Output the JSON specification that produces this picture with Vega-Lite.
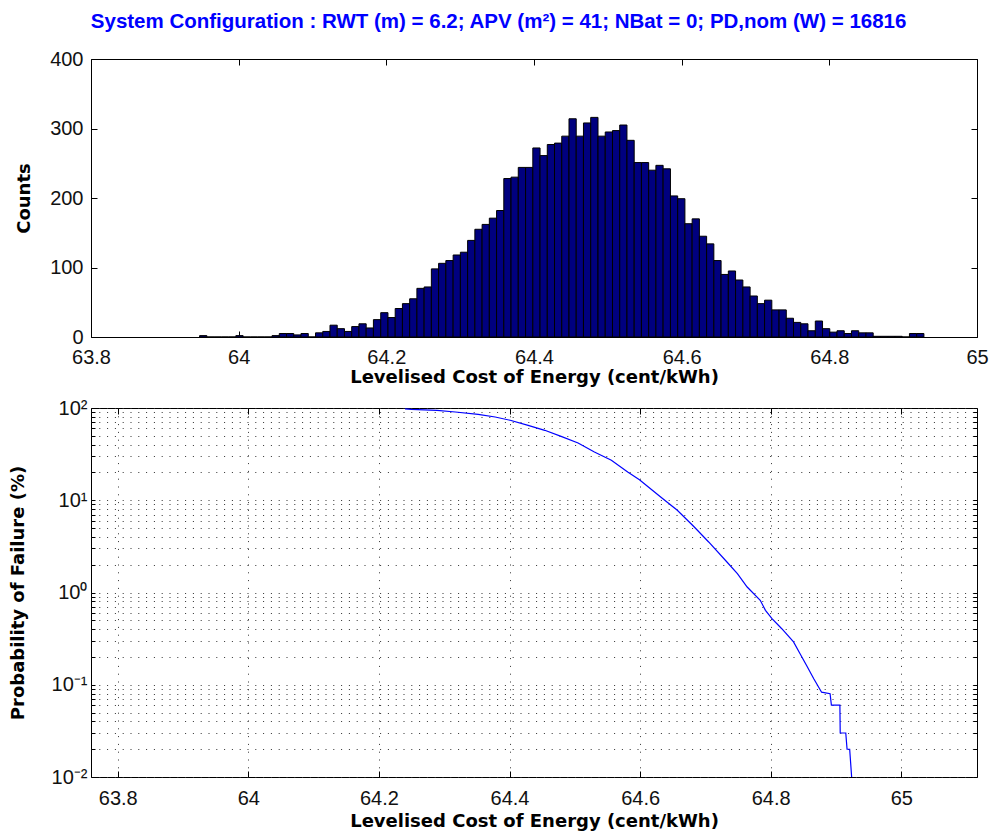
{
  "$schema": "https://vega.github.io/schema/vega-lite/v6.json",
  "background": "white",
  "padding": {"left": 8, "top": 12, "right": 2, "bottom": 2},
  "title": {"text": "System Configuration : RWT (m) = 6.2; APV (m²) = 41; NBat = 0; PD,nom (W) = 16816", "color": "#0000FF", "font": "Liberation Sans", "fontWeight": "bold", "fontSize": 20.5, "anchor": "middle", "offset": 16},
  "spacing": 10,
  "config": {
    "view": {"stroke": "#000", "strokeWidth": 1},
    "axis": {"labelFont": "Liberation Sans", "labelFontSize": 20, "labelColor": "#111", "titleFont": "DejaVu Sans", "titleFontSize": 18, "titleFontWeight": "bold", "titleColor": "#000", "domain": false, "tickColor": "#000", "tickSize": -6, "labelPadding": 12, "grid": false, "labelOverlap": false, "labelFlush": false}
  },
  "vconcat": [
    {
      "width": 886,
      "height": 278,
      "data": {"values": [
        {"a":63.9471,"b":63.9569,"c":2},
        {"a":63.9569,"b":63.9667,"c":0},
        {"a":63.9667,"b":63.9765,"c":0},
        {"a":63.9765,"b":63.9863,"c":0},
        {"a":63.9863,"b":63.9962,"c":0},
        {"a":63.9962,"b":64.0060,"c":2},
        {"a":64.0060,"b":64.0158,"c":0},
        {"a":64.0158,"b":64.0256,"c":0},
        {"a":64.0256,"b":64.0354,"c":0},
        {"a":64.0354,"b":64.0452,"c":0},
        {"a":64.0452,"b":64.0550,"c":2},
        {"a":64.0550,"b":64.0648,"c":5},
        {"a":64.0648,"b":64.0746,"c":5},
        {"a":64.0746,"b":64.0844,"c":3},
        {"a":64.0844,"b":64.0943,"c":5},
        {"a":64.0943,"b":64.1041,"c":0},
        {"a":64.1041,"b":64.1139,"c":6},
        {"a":64.1139,"b":64.1237,"c":8},
        {"a":64.1237,"b":64.1335,"c":17},
        {"a":64.1335,"b":64.1433,"c":12},
        {"a":64.1433,"b":64.1531,"c":8},
        {"a":64.1531,"b":64.1629,"c":15},
        {"a":64.1629,"b":64.1727,"c":19},
        {"a":64.1727,"b":64.1825,"c":13},
        {"a":64.1825,"b":64.1924,"c":25},
        {"a":64.1924,"b":64.2022,"c":35},
        {"a":64.2022,"b":64.2120,"c":28},
        {"a":64.2120,"b":64.2218,"c":41},
        {"a":64.2218,"b":64.2316,"c":48},
        {"a":64.2316,"b":64.2414,"c":55},
        {"a":64.2414,"b":64.2512,"c":70},
        {"a":64.2512,"b":64.2610,"c":72},
        {"a":64.2610,"b":64.2708,"c":98},
        {"a":64.2708,"b":64.2806,"c":106},
        {"a":64.2806,"b":64.2905,"c":110},
        {"a":64.2905,"b":64.3003,"c":118},
        {"a":64.3003,"b":64.3101,"c":122},
        {"a":64.3101,"b":64.3199,"c":139},
        {"a":64.3199,"b":64.3297,"c":155},
        {"a":64.3297,"b":64.3395,"c":162},
        {"a":64.3395,"b":64.3493,"c":171},
        {"a":64.3493,"b":64.3591,"c":182},
        {"a":64.3591,"b":64.3689,"c":228},
        {"a":64.3689,"b":64.3787,"c":230},
        {"a":64.3787,"b":64.3886,"c":244},
        {"a":64.3886,"b":64.3984,"c":244},
        {"a":64.3984,"b":64.4082,"c":272},
        {"a":64.4082,"b":64.4180,"c":261},
        {"a":64.4180,"b":64.4278,"c":277},
        {"a":64.4278,"b":64.4376,"c":279},
        {"a":64.4376,"b":64.4474,"c":289},
        {"a":64.4474,"b":64.4572,"c":314},
        {"a":64.4572,"b":64.4670,"c":289},
        {"a":64.4670,"b":64.4768,"c":308},
        {"a":64.4768,"b":64.4867,"c":316},
        {"a":64.4867,"b":64.4965,"c":289},
        {"a":64.4965,"b":64.5063,"c":295},
        {"a":64.5063,"b":64.5161,"c":297},
        {"a":64.5161,"b":64.5259,"c":305},
        {"a":64.5259,"b":64.5357,"c":283},
        {"a":64.5357,"b":64.5455,"c":251},
        {"a":64.5455,"b":64.5553,"c":251},
        {"a":64.5553,"b":64.5651,"c":240},
        {"a":64.5651,"b":64.5749,"c":247},
        {"a":64.5749,"b":64.5848,"c":242},
        {"a":64.5848,"b":64.5946,"c":203},
        {"a":64.5946,"b":64.6044,"c":199},
        {"a":64.6044,"b":64.6142,"c":163},
        {"a":64.6142,"b":64.6240,"c":170},
        {"a":64.6240,"b":64.6338,"c":145},
        {"a":64.6338,"b":64.6436,"c":134},
        {"a":64.6436,"b":64.6534,"c":110},
        {"a":64.6534,"b":64.6632,"c":90},
        {"a":64.6632,"b":64.6730,"c":95},
        {"a":64.6730,"b":64.6829,"c":82},
        {"a":64.6829,"b":64.6927,"c":72},
        {"a":64.6927,"b":64.7025,"c":59},
        {"a":64.7025,"b":64.7123,"c":48},
        {"a":64.7123,"b":64.7221,"c":53},
        {"a":64.7221,"b":64.7319,"c":39},
        {"a":64.7319,"b":64.7417,"c":39},
        {"a":64.7417,"b":64.7515,"c":27},
        {"a":64.7515,"b":64.7613,"c":21},
        {"a":64.7613,"b":64.7711,"c":19},
        {"a":64.7711,"b":64.7810,"c":9},
        {"a":64.7810,"b":64.7908,"c":23},
        {"a":64.7908,"b":64.8006,"c":12},
        {"a":64.8006,"b":64.8104,"c":7},
        {"a":64.8104,"b":64.8202,"c":9},
        {"a":64.8202,"b":64.8300,"c":5},
        {"a":64.8300,"b":64.8398,"c":9},
        {"a":64.8398,"b":64.8496,"c":6},
        {"a":64.8496,"b":64.8594,"c":6},
        {"a":64.8594,"b":64.8692,"c":1},
        {"a":64.8692,"b":64.8791,"c":1},
        {"a":64.8791,"b":64.8889,"c":1},
        {"a":64.8889,"b":64.8987,"c":1},
        {"a":64.8987,"b":64.9085,"c":0},
        {"a":64.9085,"b":64.9183,"c":5},
        {"a":64.9183,"b":64.9281,"c":5}
      ]},
      "resolve": {"axis": {"x": "independent", "y": "independent"}},
      "layer": [
        {
          "mark": {"type": "bar", "fill": "#00007F", "stroke": "#000", "strokeWidth": 1},
          "encoding": {
            "x": {"field": "a", "type": "quantitative", "scale": {"domain": [63.8, 65], "nice": false, "zero": false}, "axis": {"values": [63.8, 64, 64.2, 64.4, 64.6, 64.8, 65], "labelExpr": "format(datum.value, '.1~f')", "labelPadding": 16, "title": "Levelised Cost of Energy (cent/kWh)", "titlePadding": 1}},
            "x2": {"field": "b"},
            "y": {"field": "c", "type": "quantitative", "scale": {"domain": [0, 400], "nice": false}, "axis": {"values": [0, 100, 200, 300, 400], "title": "Counts", "labelPadding": 14, "titlePadding": 16}},
            "y2": {"datum": 0}
          }
        },
        {
          "mark": {"type": "bar", "opacity": 0},
          "encoding": {
            "x": {"field": "a", "type": "quantitative", "axis": {"orient": "top", "values": [63.8, 64, 64.2, 64.4, 64.6, 64.8, 65], "labels": false, "title": null}},
            "x2": {"field": "b"},
            "y": {"field": "c", "type": "quantitative", "axis": {"orient": "right", "values": [0, 100, 200, 300, 400], "labels": false, "title": null}},
            "y2": {"datum": 0}
          }
        }
      ]
    },
    {
      "width": 886,
      "height": 369,
      "data": {"values": [
        {"x": 64.24, "p": 98.0},
        {"x": 64.2497, "p": 96.8},
        {"x": 64.289, "p": 94.4},
        {"x": 64.317, "p": 90.5},
        {"x": 64.352, "p": 85.4},
        {"x": 64.378, "p": 79.9},
        {"x": 64.401, "p": 73.6},
        {"x": 64.4285, "p": 64.9},
        {"x": 64.454, "p": 57.3},
        {"x": 64.479, "p": 49.3},
        {"x": 64.505, "p": 41.7},
        {"x": 64.530, "p": 33.3},
        {"x": 64.556, "p": 27.1},
        {"x": 64.581, "p": 20.2},
        {"x": 64.599, "p": 16.7},
        {"x": 64.632, "p": 10.8},
        {"x": 64.657, "p": 7.78},
        {"x": 64.683, "p": 5.13},
        {"x": 64.705, "p": 3.53},
        {"x": 64.733, "p": 2.14},
        {"x": 64.749, "p": 1.60},
        {"x": 64.764, "p": 1.147},
        {"x": 64.784, "p": 0.823},
        {"x": 64.792, "p": 0.641},
        {"x": 64.802, "p": 0.520},
        {"x": 64.817, "p": 0.405},
        {"x": 64.835, "p": 0.291},
        {"x": 64.845, "p": 0.217},
        {"x": 64.855, "p": 0.162},
        {"x": 64.866, "p": 0.116},
        {"x": 64.878, "p": 0.083},
        {"x": 64.891, "p": 0.08},
        {"x": 64.893, "p": 0.06},
        {"x": 64.906, "p": 0.06},
        {"x": 64.9065, "p": 0.03},
        {"x": 64.915, "p": 0.03},
        {"x": 64.917, "p": 0.02},
        {"x": 64.921, "p": 0.02},
        {"x": 64.924, "p": 0.01}
      ]},
      "resolve": {"axis": {"x": "independent", "y": "independent"}},
      "layer": [
        {
          "mark": {"type": "line", "color": "#0000FF", "strokeWidth": 1.2, "clip": true},
          "encoding": {
            "x": {"field": "x", "type": "quantitative", "scale": {"domain": [63.759, 65.116], "nice": false, "zero": false}, "axis": {"values": [63.8, 64, 64.2, 64.4, 64.6, 64.8, 65], "labelExpr": "format(datum.value, '.1~f')", "labelPadding": 17, "title": "Levelised Cost of Energy (cent/kWh)", "titlePadding": 4, "grid": true, "gridColor": "#333", "gridDash": [1, 6.8], "gridWidth": 1}},
            "y": {"field": "p", "type": "quantitative", "scale": {"type": "log", "domain": [0.01, 100], "nice": false}, "axis": {"values": [0.01,0.02,0.03,0.04,0.05,0.06,0.07,0.08,0.09,0.1,0.2,0.3,0.4,0.5,0.6,0.7,0.8,0.9,1,2,3,4,5,6,7,8,9,10,20,30,40,50,60,70,80,90,100], "labelExpr": "datum.value == 100 ? '10²' : datum.value == 10 ? '10¹' : datum.value == 1 ? '10⁰' : datum.value == 0.1 ? '10⁻¹' : datum.value == 0.01 ? '10⁻²' : ''", "title": "Probability of Failure (%)", "titlePadding": 24, "tickSize": -4, "labelPadding": 8, "grid": true, "gridColor": "#333", "gridDash": [1, 6.8], "gridWidth": 1}}
          }
        },
        {
          "mark": {"type": "line", "strokeOpacity": 0},
          "encoding": {
            "x": {"field": "x", "type": "quantitative", "axis": {"orient": "top", "values": [63.8, 64, 64.2, 64.4, 64.6, 64.8, 65], "labels": false, "title": null}},
            "y": {"field": "p", "type": "quantitative", "axis": {"orient": "right", "values": [0.01,0.02,0.03,0.04,0.05,0.06,0.07,0.08,0.09,0.1,0.2,0.3,0.4,0.5,0.6,0.7,0.8,0.9,1,2,3,4,5,6,7,8,9,10,20,30,40,50,60,70,80,90,100], "labels": false, "title": null, "tickSize": -4}}
          }
        }
      ]
    }
  ]
}
